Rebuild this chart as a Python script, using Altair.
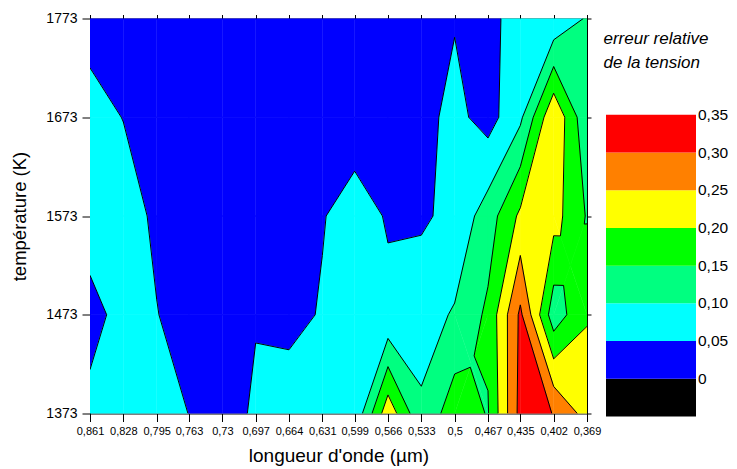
import altair as alt
import numpy as np
import pandas as pd

# ---------------- data ----------------
wavelengths = [0.861, 0.828, 0.795, 0.763, 0.73, 0.697, 0.664, 0.631,
               0.599, 0.566, 0.533, 0.5, 0.467, 0.435, 0.402, 0.369]
temperatures = [1373, 1473, 1573, 1673, 1773]

# relative error of the voltage, one list per temperature (columns follow wavelengths)
err_1373 = [0.066, 0.08, 0.08, 0.049, 0.02, 0.06, 0.07, 0.07, 0.06, 0.233, 0.108, 0.18, 0.147, 0.317, 0.299, 0.23]
err_1473 = [0.03, 0.07, 0.053, 0.01, 0.02, 0.046, 0.039, 0.053, 0.07, 0.058, 0.079, 0.105, 0.16, 0.31, 0.12, 0.196]
err_1573 = [0.08, 0.09, 0.034, 0.02, 0.02, 0.02, 0.02, 0.048, 0.065, 0.047, 0.043, 0.063, 0.125, 0.21, 0.22, 0.146]
err_1673 = [0.08, 0.048, 0.03, 0.02, 0.02, 0.02, 0.02, 0.02, 0.032, 0.02, 0.034, 0.0645, 0.03, 0.09, 0.245, 0.11]
err_1773 = [0.02, 0.02, 0.02, 0.02, 0.02, 0.02, 0.02, 0.02, 0.02, 0.02, 0.03, 0.0466, 0.04, 0.065, 0.06, 0.105]

levels = [-0.05, 0.0, 0.05, 0.10, 0.15, 0.20, 0.25, 0.30, 0.35]
band_names = ["<0", "0-0,05", "0,05-0,10", "0,10-0,15", "0,15-0,20", "0,20-0,25", "0,25-0,30", "0,30-0,35"]
band_colors = ["#000000", "#0000ff", "#00ffff", "#00ff80", "#00ff00", "#ffff00", "#ff8000", "#ff0000"]
legend_ticks = [0, 0.05, 0.10, 0.15, 0.20, 0.25, 0.30, 0.35]
legend_title = ["erreur relative", "de la tension"]

FONT = "Liberation Sans"

# ---------------- filled contours (marching squares) ----------------
grid = np.array([err_1373, err_1473, err_1573, err_1673, err_1773], dtype=float)


def clip_band(poly, lo, hi):
    out = []
    n = len(poly)
    for i in range(n):
        p = poly[i]
        q = poly[(i + 1) % n]
        if lo <= p[2] < hi:
            out.append((p[0], p[1], None))
        cr = []
        for L in (lo, hi):
            if np.isfinite(L) and (p[2] - L) * (q[2] - L) < 0:
                t = (L - p[2]) / (q[2] - p[2])
                cr.append((t, p[0] + t * (q[0] - p[0]), p[1] + t * (q[1] - p[1])))
        cr.sort()
        for t, x, y in cr:
            out.append((x, y, i))
    return out


finite_levels = levels[1:]
polys, segs, seen = [], [], set()
pid = 0
sid = 0
for i in range(len(temperatures) - 1):
    for j in range(len(wavelengths) - 1):
        c = [(wavelengths[j], temperatures[i], grid[i, j]),
             (wavelengths[j + 1], temperatures[i], grid[i, j + 1]),
             (wavelengths[j + 1], temperatures[i + 1], grid[i + 1, j + 1]),
             (wavelengths[j], temperatures[i + 1], grid[i + 1, j])]
        saddle = False
        for L in finite_levels:
            s = [v[2] > L for v in c]
            if s[0] == s[2] and s[1] == s[3] and s[0] != s[1]:
                saddle = True
        if saddle:
            ctr = (np.mean([v[0] for v in c]), np.mean([v[1] for v in c]), np.mean([v[2] for v in c]))
            pieces = [[c[k], c[(k + 1) % 4], ctr] for k in range(4)]
        else:
            pieces = [c]
        for piece in pieces:
            for b in range(len(band_names)):
                lo = -np.inf if b == 0 else levels[b]
                hi = np.inf if b == len(band_names) - 1 else levels[b + 1]
                pts = clip_band(piece, lo, hi)
                if len(pts) < 3:
                    continue
                for k, (x, y, e) in enumerate(pts):
                    polys.append({"pid": pid, "k": k, "wl": x, "T": y, "band": band_names[b]})
                pid += 1
                m = len(pts)
                for k in range(m):
                    a = pts[k]
                    bb = pts[(k + 1) % m]
                    if a[2] is not None and bb[2] is not None and a[2] != bb[2]:
                        key = tuple(sorted([(round(a[0], 6), round(a[1], 4)), (round(bb[0], 6), round(bb[1], 4))]))
                        if key in seen:
                            continue
                        seen.add(key)
                        segs.append({"sid": sid, "k": 0, "wl": a[0], "T": a[1]})
                        segs.append({"sid": sid, "k": 1, "wl": bb[0], "T": bb[1]})
                        sid += 1

poly_df = pd.DataFrame(polys)
seg_df = pd.DataFrame(segs)

# ---------------- main plot ----------------
col_scale = alt.Scale(domain=band_names, range=band_colors)
x_dom = [0.861, 0.369]
y_dom = [1373, 1773]

fills = alt.Chart(poly_df).mark_line(strokeWidth=0.7, clip=True).encode(
    x=alt.X("wl:Q", scale=alt.Scale(domain=x_dom, nice=False, zero=False),
            axis=alt.Axis(orient="bottom", values=wavelengths,
                          labelExpr="replace(format(datum.value, '.3~f'), '.', ',')",
                          title="longueur d'onde (µm)", labelFontSize=11, titleFontSize=19,
                          tickSize=8, labelPadding=4, titlePadding=10, labelFlush=False,
                          labelOverlap=False)),
    y=alt.Y("T:Q", scale=alt.Scale(domain=y_dom, nice=False, zero=False),
            axis=alt.Axis(orient="left", values=temperatures, format="d",
                          title="température (K)", labelFontSize=14, titleFontSize=18.5,
                          tickSize=8, labelPadding=5, titlePadding=16, labelFlush=False)),
    fill=alt.Fill("band:N", scale=col_scale, legend=None),
    stroke=alt.Stroke("band:N", scale=col_scale, legend=None),
    detail="pid:N",
    order="k:Q",
)

lines = alt.Chart(seg_df).mark_line(color="black", strokeWidth=1, clip=True).encode(
    x=alt.X("wl:Q", scale=alt.Scale(domain=x_dom, nice=False, zero=False),
            axis=alt.Axis(orient="top", values=wavelengths, labels=False, tickSize=4, title=None)),
    y=alt.Y("T:Q", scale=alt.Scale(domain=y_dom, nice=False, zero=False),
            axis=alt.Axis(orient="right", values=temperatures, labels=False, tickSize=4, title=None)),
    detail="sid:N",
    order="k:Q",
)

main = alt.layer(fills, lines).resolve_scale(x="independent", y="independent").properties(
    width=497, height=395)

# ---------------- colour legend ----------------
leg_df = pd.DataFrame({"lo": levels[:-1], "hi": levels[1:], "band": band_names})
lab_df = pd.DataFrame({"v": legend_ticks,
                       "lab": ["0" if v == 0 else f"{v:.2f}".replace(".", ",") for v in legend_ticks]})
leg_scale = alt.Scale(domain=[-0.05, 0.4777], nice=False, zero=False)

rects = alt.Chart(leg_df).mark_rect().encode(
    y=alt.Y("lo:Q", scale=leg_scale, axis=None),
    y2="hi:Q",
    x=alt.value(0), x2=alt.value(90),
    color=alt.Color("band:N", scale=col_scale, legend=None),
)
labels = alt.Chart(lab_df).mark_text(align="left", baseline="middle", fontSize=15.5, font=FONT,
                                     color="black").encode(
    y=alt.Y("v:Q", scale=leg_scale, axis=None),
    x=alt.value(92),
    text="lab:N",
)
title = alt.Chart(pd.DataFrame({"t": [0]})).mark_text(
    text=legend_title, align="left", baseline="middle", fontSize=17, font=FONT,
    fontStyle="italic", lineHeight=24.7, color="black").encode(
    x=alt.value(-2.5), y=alt.value(20))

legend = alt.layer(rects, labels, title).properties(width=90, height=398)

chart = alt.hconcat(main, legend, spacing=2).properties(
    padding={"left": 10, "top": 11.5, "right": 0, "bottom": 0},
    background="white",
).configure_view(stroke=None).configure_axis(
    domainColor="black", tickColor="black", labelColor="black", titleColor="black",
    labelFont=FONT, titleFont=FONT, titleFontWeight="normal", grid=False,
    domainWidth=1, tickWidth=1,
)

chart.save("out.html", embed_options={"renderer": "svg", "actions": False})
